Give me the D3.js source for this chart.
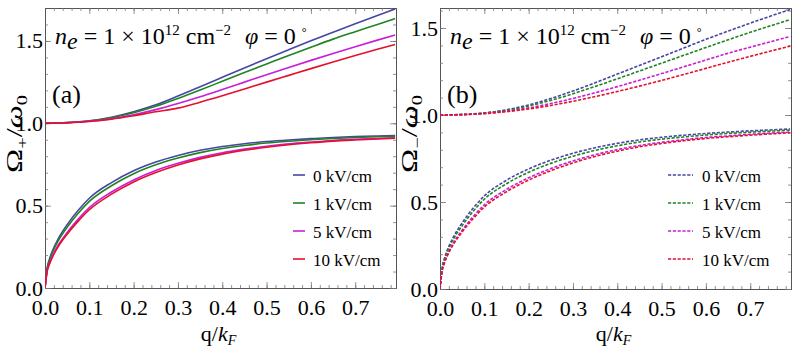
<!DOCTYPE html>
<html>
<head>
<meta charset="utf-8">
<script src="https://cdn.jsdelivr.net/npm/d3@7"></script>
<style>
  body { margin: 0; background: #fff; }
  svg { display: block; }
  text { font-family: "Liberation Serif", "Times New Roman", serif; fill: #000; }
</style>
</head>
<body>
<div id="chart"></div>
<script>
// field strengths (legend) and their colours
const fields = ['0 kV/cm', '1 kV/cm', '5 kV/cm', '10 kV/cm']
const colors = ['#4646a6', '#1f841f', '#c81ed8', '#e5102c']

const xTicks = [0, 0.1, 0.2, 0.3, 0.4, 0.5, 0.6, 0.7]
const yTicks = [0, 0.5, 1.0, 1.5]

// q/kF sample points
const qUpper = [0, 0.05, 0.1, 0.15, 0.2, 0.25, 0.3, 0.35, 0.4, 0.45, 0.5, 0.55, 0.6, 0.65, 0.7, 0.75, 0.79]
const qLower = [0, 0.005, 0.01, 0.02, 0.03, 0.05, 0.075, 0.1, 0.15, 0.2, 0.25, 0.3, 0.35, 0.4, 0.45, 0.5, 0.55, 0.6, 0.65, 0.7, 0.75, 0.79]

// panel (a): Omega_+ / omega_0
const plusUp0  = [1.0, 1.004, 1.015, 1.037, 1.07, 1.112, 1.166, 1.222, 1.279, 1.336, 1.392, 1.447, 1.501, 1.553, 1.604, 1.654, 1.694]
const plusUp1  = [1.0, 1.004, 1.014, 1.034, 1.064, 1.103, 1.151, 1.202, 1.255, 1.308, 1.36, 1.412, 1.462, 1.511, 1.556, 1.60, 1.636]
const plusUp5  = [1.0, 1.003, 1.012, 1.028, 1.052, 1.083, 1.12, 1.161, 1.205, 1.25, 1.295, 1.339, 1.382, 1.424, 1.465, 1.505, 1.536]
const plusUp10 = [1.0, 1.003, 1.011, 1.025, 1.046, 1.07, 1.092, 1.128, 1.167, 1.208, 1.25, 1.291, 1.332, 1.372, 1.411, 1.449, 1.478]

const plusLow0  = [0, 0.124, 0.175, 0.245, 0.30, 0.385, 0.472, 0.545, 0.64, 0.712, 0.765, 0.805, 0.836, 0.859, 0.876, 0.889, 0.899, 0.907, 0.914, 0.919, 0.923, 0.926]
const plusLow1  = [0, 0.118, 0.167, 0.234, 0.287, 0.369, 0.454, 0.526, 0.621, 0.694, 0.748, 0.789, 0.822, 0.847, 0.865, 0.88, 0.891, 0.90, 0.908, 0.914, 0.918, 0.922]
const plusLow5  = [0, 0.106, 0.15, 0.212, 0.261, 0.337, 0.418, 0.488, 0.583, 0.656, 0.713, 0.757, 0.793, 0.821, 0.843, 0.861, 0.875, 0.886, 0.896, 0.903, 0.908, 0.912]
const plusLow10 = [0, 0.102, 0.145, 0.205, 0.252, 0.327, 0.406, 0.475, 0.57, 0.644, 0.701, 0.747, 0.784, 0.813, 0.836, 0.855, 0.87, 0.882, 0.892, 0.899, 0.905, 0.909]

// panel (b): Omega_- / omega_0
const minusUp0  = [1.0, 1.003, 1.012, 1.03, 1.058, 1.095, 1.138, 1.185, 1.235, 1.285, 1.335, 1.385, 1.435, 1.482, 1.528, 1.572, 1.606]
const minusUp1  = [1.0, 1.003, 1.011, 1.027, 1.052, 1.084, 1.122, 1.164, 1.208, 1.253, 1.298, 1.343, 1.388, 1.432, 1.475, 1.516, 1.548]
const minusUp5  = [1.0, 1.002, 1.009, 1.022, 1.041, 1.066, 1.095, 1.128, 1.163, 1.20, 1.238, 1.277, 1.316, 1.355, 1.39, 1.424, 1.451]
const minusUp10 = [1.0, 1.002, 1.008, 1.019, 1.035, 1.055, 1.079, 1.106, 1.135, 1.166, 1.199, 1.233, 1.268, 1.303, 1.337, 1.37, 1.396]

const minusLow0  = [0, 0.124, 0.175, 0.245, 0.298, 0.38, 0.465, 0.535, 0.625, 0.69, 0.74, 0.78, 0.812, 0.837, 0.857, 0.872, 0.884, 0.894, 0.902, 0.909, 0.915, 0.92]
const minusLow1  = [0, 0.118, 0.167, 0.234, 0.285, 0.364, 0.447, 0.516, 0.605, 0.671, 0.722, 0.763, 0.797, 0.823, 0.845, 0.861, 0.874, 0.885, 0.894, 0.901, 0.908, 0.913]
const minusLow5  = [0, 0.108, 0.153, 0.216, 0.264, 0.338, 0.417, 0.484, 0.572, 0.639, 0.692, 0.736, 0.772, 0.801, 0.825, 0.843, 0.858, 0.871, 0.88, 0.889, 0.897, 0.902]
const minusLow10 = [0, 0.104, 0.148, 0.209, 0.255, 0.328, 0.405, 0.471, 0.559, 0.626, 0.68, 0.725, 0.762, 0.792, 0.817, 0.836, 0.852, 0.865, 0.875, 0.884, 0.892, 0.898]

const width = 797
const height = 349

const svg = d3.select('#chart')
              .append('svg')
              .attr('width', width)
              .attr('height', height)

// text with italic / sub / superscript pieces
const richText = (g, x, y, size, parts) => {
    let t = g.append('text').attr('x', x).attr('y', y).style('font-size', size + 'px')
    let shift = 0
    parts.forEach(p => {
        let s = t.append('tspan').text(p.t)
        let target = p.dy || 0
        s.attr('dy', target - shift)
        shift = target
        if (p.dx) s.attr('dx', p.dx)
        if (p.size) s.style('font-size', p.size + 'px')
        if (p.it) s.style('font-style', 'italic')
    })
    return t
}

const drawPanel = (opt) => {
    const { left, top, right, bottom, yMax } = opt
    let x = d3.scaleLinear().domain([0, 0.792]).range([left, right])
    let y = d3.scaleLinear().domain([0, yMax]).range([bottom, top])

    let g = svg.append('g')

    const minorX = d3.range(0, 0.79, 0.02)
    const minorY = d3.range(0, yMax, 0.1)

    const styleAxis = sel => {
        sel.selectAll('path').attr('stroke', '#555').attr('stroke-width', 1)
        sel.selectAll('line').attr('stroke', '#777').attr('stroke-width', 0.8)
        sel.selectAll('text').style('font-size', '22px').style('font-family', '"Liberation Serif", "Times New Roman", serif').attr('fill', '#000')
    }

    // bottom with labels
    g.append('g').attr('transform', `translate(0,${bottom})`)
        .call(d3.axisBottom(x).tickValues(xTicks).tickSize(-6).tickSizeOuter(0).tickPadding(11).tickFormat(d3.format('.1f')))
        .call(styleAxis)
    g.append('g').attr('transform', `translate(0,${bottom})`)
        .call(d3.axisBottom(x).tickValues(minorX).tickSize(-3).tickSizeOuter(0).tickFormat(''))
        .call(styleAxis)
    // top
    g.append('g').attr('transform', `translate(0,${top})`)
        .call(d3.axisTop(x).tickValues(xTicks).tickSize(-6).tickSizeOuter(0).tickFormat(''))
        .call(styleAxis)
    g.append('g').attr('transform', `translate(0,${top})`)
        .call(d3.axisTop(x).tickValues(minorX).tickSize(-3).tickSizeOuter(0).tickFormat(''))
        .call(styleAxis)
    // left with labels
    g.append('g').attr('transform', `translate(${left},0)`)
        .call(d3.axisLeft(y).tickValues(yTicks).tickSize(-6).tickSizeOuter(0).tickPadding(2).tickFormat(d3.format('.1f')))
        .call(styleAxis)
    g.append('g').attr('transform', `translate(${left},0)`)
        .call(d3.axisLeft(y).tickValues(minorY).tickSize(-3).tickSizeOuter(0).tickFormat(''))
        .call(styleAxis)
    // right
    g.append('g').attr('transform', `translate(${right},0)`)
        .call(d3.axisRight(y).tickValues(yTicks).tickSize(-6).tickSizeOuter(0).tickFormat(''))
        .call(styleAxis)
    g.append('g').attr('transform', `translate(${right},0)`)
        .call(d3.axisRight(y).tickValues(minorY).tickSize(-3).tickSizeOuter(0).tickFormat(''))
        .call(styleAxis)

    let clipId = 'clip' + opt.name
    svg.append('clipPath').attr('id', clipId)
        .append('rect').attr('x', left).attr('y', top).attr('width', right - left).attr('height', bottom - top)

    let line = d3.line()
                 .x(d => x(d[0]))
                 .y(d => y(d[1]))
                 .curve(d3.curveMonotoneX)

    let curves = g.append('g').attr('clip-path', `url(#${clipId})`)
    const addSet = (qs, sets) => {
        sets.forEach((vals, i) => {
            curves.append('path')
                .attr('d', line(qs.map((q, j) => [q, vals[j]])))
                .attr('fill', 'none')
                .attr('stroke', colors[i])
                .attr('stroke-width', 1.6)
                .attr('stroke-dasharray', opt.dashed ? '3.2,1.6' : null)
        })
    }
    addSet(qUpper, opt.upper)
    addSet(qLower, opt.lower)

    // legend
    fields.forEach((f, i) => {
        let ly = 182 + i * 28
        g.append('line')
            .attr('x1', opt.legX1).attr('x2', opt.legX2)
            .attr('y1', ly - 7).attr('y2', ly - 7)
            .attr('stroke', colors[i])
            .attr('stroke-width', 1.6)
            .attr('stroke-dasharray', opt.dashed ? '3.2,1.6' : null)
        g.append('text')
            .attr('x', opt.legText).attr('y', ly)
            .style('font-size', '17px')
            .text(f)
    })

    // density / angle note
    richText(g, left + 10, 44, 24, [
        { t: 'n', it: true },
        { t: 'e', it: true, dy: 5 },
        { t: ' = 1 × 10', dy: 0 },
        { t: '12', size: 15, dy: -9 },
        { t: ' cm', dy: 0 },
        { t: '−2', size: 15, dy: -9 },
        { t: 'φ', it: true, dy: 0, dx: 14 },
        { t: ' = 0 ' },
        { t: '°', size: 12, dy: -8 }
    ])

    g.append('text')
        .attr('x', left + 7).attr('y', 103)
        .style('font-size', '26px')
        .text(opt.label)

    // y axis title
    let yt = richText(g, 0, 0, 24, [
        { t: 'Ω' },
        { t: opt.sign, size: 15, dy: 5 },
        { t: '/', dy: 0 },
        { t: 'ω', it: true },
        { t: '0', size: 15, dy: 5 }
    ])
    yt.attr('text-anchor', 'middle')
      .attr('textLength', 78)
      .attr('lengthAdjust', 'spacingAndGlyphs')
      .attr('transform', `translate(${left - 23},134) rotate(-90)`)

    // x axis title
    richText(g, (left + right) / 2 - 2, 341, 22, [
        { t: 'q/' },
        { t: 'k', it: true },
        { t: 'F', it: true, size: 14, dy: 4 }
    ]).attr('text-anchor', 'middle')
}

drawPanel({
    name: 'a', left: 45, top: 8, right: 396, bottom: 288, yMax: 1.70,
    upper: [plusUp0, plusUp1, plusUp5, plusUp10],
    lower: [plusLow0, plusLow1, plusLow5, plusLow10],
    dashed: false, label: '(a)', sign: '+',
    legX1: 293, legX2: 305, legText: 313
})

drawPanel({
    name: 'b', left: 440, top: 8, right: 791, bottom: 289, yMax: 1.615,
    upper: [minusUp0, minusUp1, minusUp5, minusUp10],
    lower: [minusLow0, minusLow1, minusLow5, minusLow10],
    dashed: true, label: '(b)', sign: '−',
    legX1: 668, legX2: 693, legText: 702
})
</script>
</body>
</html>
